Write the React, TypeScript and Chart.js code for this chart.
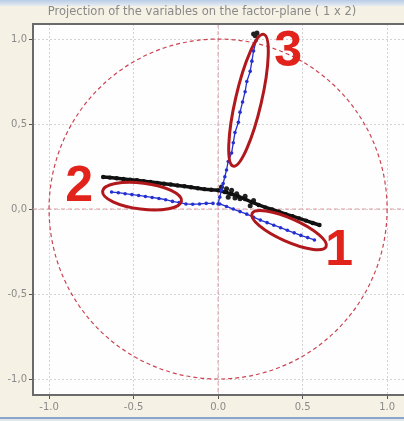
import React, { useEffect, useRef } from 'react';
import { Chart, registerables } from 'chart.js';
Chart.register(...registerables);

const titleText = 'Projection of the variables on the factor-plane ( 1 x 2)';
const xTicks = [-1, -0.5, 0, 0.5, 1];
const xTickLabels = ['-1.0', '-0.5', '0.0', '0.5', '1.0'];
const yTicks = [-1, -0.5, 0, 0.5, 1];
const yTickLabels = ['-1,0', '-0,5', '0,0', '0,5', '1,0'];

// black band of variables
const blackX = [-0.68, -0.64, -0.6, -0.56, -0.52, -0.48, -0.44, -0.4, -0.36, -0.32, -0.28, -0.24, -0.2, -0.16, -0.12, -0.08, -0.04, 0.0, 0.04, 0.08, 0.12, 0.16, 0.2, 0.24, 0.28, 0.32, 0.36, 0.4, 0.44, 0.48, 0.52, 0.56, 0.6];
const blackY = [0.188, 0.185, 0.181, 0.177, 0.173, 0.169, 0.164, 0.159, 0.154, 0.149, 0.144, 0.139, 0.134, 0.128, 0.122, 0.117, 0.113, 0.11, 0.1, 0.088, 0.074, 0.058, 0.04, 0.024, 0.01, -0.003, -0.016, -0.03, -0.042, -0.055, -0.068, -0.082, -0.094];
const blackClusterX = [0.02, 0.05, 0.08, 0.11, 0.06, 0.1, 0.13, 0.16, 0.21, 0.19, 0.21, 0.23, 0.22];
const blackClusterY = [0.13, 0.12, 0.11, 0.09, 0.07, 0.065, 0.06, 0.075, 0.05, 0.02, 1.03, 1.035, 1.02];

// blue arms
const blueArm1X = [0.01, 0.05, 0.09, 0.13, 0.17, 0.21, 0.25, 0.29, 0.33, 0.37, 0.41, 0.45, 0.49, 0.53, 0.57];
const blueArm1Y = [0.03, 0.015, 0.0, -0.015, -0.03, -0.048, -0.065, -0.08, -0.095, -0.11, -0.125, -0.14, -0.155, -0.168, -0.182];
const blueArm2X = [-0.63, -0.59, -0.55, -0.51, -0.47, -0.43, -0.39, -0.35, -0.31, -0.27, -0.23, -0.19, -0.15, -0.11, -0.07, -0.03];
const blueArm2Y = [0.1, 0.096, 0.09, 0.085, 0.08, 0.074, 0.068, 0.062, 0.055, 0.045, 0.038, 0.03, 0.028, 0.03, 0.033, 0.033];
const blueArm3X = [0.0, 0.01, 0.02, 0.03, 0.04, 0.05, 0.06, 0.08, 0.09, 0.1, 0.12, 0.13, 0.145, 0.16, 0.17, 0.19, 0.2, 0.21, 0.225];
const blueArm3Y = [0.03, 0.07, 0.11, 0.15, 0.19, 0.23, 0.28, 0.33, 0.39, 0.45, 0.51, 0.57, 0.63, 0.69, 0.75, 0.81, 0.87, 0.93, 0.99];

// annotations (data units)
const ellipseCX = [0.42, -0.45, 0.18];
const ellipseCY = [-0.124, 0.076, 0.64];
const ellipseMajor = [0.24, 0.235, 0.4];
const ellipseMinor = [0.068, 0.077, 0.077];
const ellipseAngle = [24, 7, -77];
const markerLabels = ['1', '2', '3'];
const markerX = [0.716, -0.822, 0.414];
const markerY = [-0.224, 0.153, 0.947];

const FONT = '"DejaVu Sans", "Liberation Sans", Arial, sans-serif';

const pts = (xs: number[], ys: number[]) => xs.map((x, i) => ({ x, y: ys[i] }));

const bgPlugin = {
  id: 'bgPlugin',
  beforeDraw(chart: any) {
    const { ctx, width, height, chartArea } = chart;
    ctx.save();
    ctx.fillStyle = '#f5f2e5';
    ctx.fillRect(0, 0, width, height);
    const g = ctx.createLinearGradient(0, 0, 0, 6);
    g.addColorStop(0, '#b9cce6');
    g.addColorStop(1, '#e6ecf2');
    ctx.fillStyle = g;
    ctx.fillRect(0, 0, width, 6);
    ctx.fillStyle = '#8aa5c8';
    ctx.fillRect(0, 417, width, 2);
    ctx.fillStyle = '#dfe6ef';
    ctx.fillRect(0, 419, width, 2);
    ctx.fillStyle = '#fefefe';
    ctx.fillRect(chartArea.left, chartArea.top, width - chartArea.left, chartArea.bottom - chartArea.top);
    ctx.restore();
  },
  beforeDatasetsDraw(chart: any) {
    const { ctx, chartArea, scales } = chart;
    const xs = scales.x, ys = scales.y;
    const cx = xs.getPixelForValue(0), cy = ys.getPixelForValue(0);
    ctx.save();
    ctx.beginPath();
    ctx.rect(chartArea.left, chartArea.top, chartArea.right - chartArea.left, chartArea.bottom - chartArea.top);
    ctx.clip();
    ctx.strokeStyle = '#e39aa2';
    ctx.lineWidth = 1;
    ctx.setLineDash([4, 3]);
    ctx.beginPath();
    ctx.moveTo(chartArea.left, cy);
    ctx.lineTo(chartArea.right, cy);
    ctx.moveTo(cx, chartArea.top);
    ctx.lineTo(cx, chartArea.bottom);
    ctx.stroke();
    const rx = xs.getPixelForValue(1) - cx;
    const ry = cy - ys.getPixelForValue(1);
    ctx.strokeStyle = '#cc4452';
    ctx.lineWidth = 1.2;
    ctx.setLineDash([4, 3]);
    ctx.beginPath();
    ctx.ellipse(cx, cy, rx, ry, 0, 0, Math.PI * 2);
    ctx.stroke();
    ctx.restore();
  },
  afterDatasetsDraw(chart: any) {
    const { ctx, chartArea, scales, width } = chart;
    const xs = scales.x, ys = scales.y;
    const pxu = xs.getPixelForValue(1) - xs.getPixelForValue(0);
    ctx.save();
    ctx.strokeStyle = '#b0181c';
    ctx.lineWidth = 3;
    ellipseCX.forEach((ex, i) => {
      ctx.beginPath();
      ctx.ellipse(xs.getPixelForValue(ex), ys.getPixelForValue(ellipseCY[i]), ellipseMajor[i] * pxu, ellipseMinor[i] * pxu, (ellipseAngle[i] * Math.PI) / 180, 0, Math.PI * 2);
      ctx.stroke();
    });
    ctx.fillStyle = '#e2231c';
    ctx.font = 'bold 50px "Liberation Sans", Arial, sans-serif';
    ctx.textAlign = 'center';
    ctx.textBaseline = 'alphabetic';
    markerLabels.forEach((t, i) => {
      ctx.fillText(t, xs.getPixelForValue(markerX[i]), ys.getPixelForValue(markerY[i]) + 18);
    });
    // frame lines
    ctx.strokeStyle = '#6a6a6a';
    ctx.lineWidth = 2;
    ctx.beginPath();
    ctx.moveTo(chartArea.left - 1, chartArea.top);
    ctx.lineTo(width, chartArea.top);
    ctx.moveTo(chartArea.left - 1, chartArea.bottom);
    ctx.lineTo(width, chartArea.bottom);
    ctx.stroke();
    ctx.restore();
  },
};

export default function App() {
  const ref = useRef<HTMLCanvasElement | null>(null);
  useEffect(() => {
    document.body.style.margin = '0';
    const canvas = ref.current!;
    const blueStyle = {
      borderColor: '#2530d0',
      backgroundColor: '#2530d0',
      showLine: true,
      borderWidth: 1.3,
      pointRadius: 1.8,
      pointBorderWidth: 0,
      order: 1,
    };
    const chart = new Chart(canvas, {
      type: 'scatter',
      data: {
        datasets: [
          { data: pts(blueArm1X, blueArm1Y), ...blueStyle },
          { data: pts(blueArm2X, blueArm2Y), ...blueStyle },
          { data: pts(blueArm3X, blueArm3Y), ...blueStyle },
          { data: pts(blackX, blackY), borderColor: '#111111', backgroundColor: '#111111', showLine: true, borderWidth: 3.5, pointRadius: 2.2, pointBorderWidth: 0, order: 2 },
          { data: pts(blackClusterX, blackClusterY), borderColor: '#222222', backgroundColor: '#222222', showLine: false, pointRadius: 2.5, pointBorderWidth: 0, order: 2 },
        ],
      },
      options: {
        responsive: false,
        animation: false,
        layout: { padding: 0, autoPadding: false },
        plugins: {
          legend: { display: false },
          tooltip: { enabled: false },
          title: {
            display: true,
            text: titleText,
            color: '#888888',
            font: { size: 11.5, family: FONT, weight: 'normal', lineHeight: 1.05 },
            padding: { top: 6, bottom: 6 },
          },
        },
        scales: {
          x: {
            type: 'linear',
            min: -1.095,
            max: 1.1,
            afterBuildTicks: (s: any) => {
              s.ticks = xTicks.map((v) => ({ value: v }));
            },
            afterFit: (s: any) => {
              s.height = 26;
              s.paddingRight = 0;
              s.paddingLeft = 0;
            },
            ticks: {
              stepSize: 0.5,
              includeBounds: false,
              color: '#8a8a8a',
              font: { size: 10, family: FONT },
              padding: 2,
              maxRotation: 0,
              callback: (v: any) => xTickLabels[xTicks.indexOf(Number(v))] ?? '',
            },
            grid: { color: '#d2d2d2', lineWidth: 1, tickLength: 4, tickColor: '#555555' },
            border: { color: '#6a6a6a', width: 2, dash: [2, 2] },
          },
          y: {
            type: 'linear',
            min: -1.094,
            max: 1.088,
            afterBuildTicks: (s: any) => {
              s.ticks = yTicks.map((v) => ({ value: v }));
            },
            afterFit: (s: any) => {
              s.width = 33;
            },
            ticks: {
              stepSize: 0.5,
              includeBounds: false,
              color: '#8a8a8a',
              font: { size: 10, family: FONT },
              padding: 2,
              callback: (v: any) => yTickLabels[yTicks.indexOf(Number(v))] ?? '',
            },
            grid: { color: '#d2d2d2', lineWidth: 1, tickLength: 4, tickColor: '#555555' },
            border: { color: '#6a6a6a', width: 2, dash: [2, 2] },
          },
        },
      },
      plugins: [bgPlugin],
    } as any);
    return () => chart.destroy();
  }, []);
  return (
    <div style={{ width: 404, height: 421 }}>
      <canvas ref={ref} width={404} height={421} style={{ display: 'block' }} />
    </div>
  );
}
